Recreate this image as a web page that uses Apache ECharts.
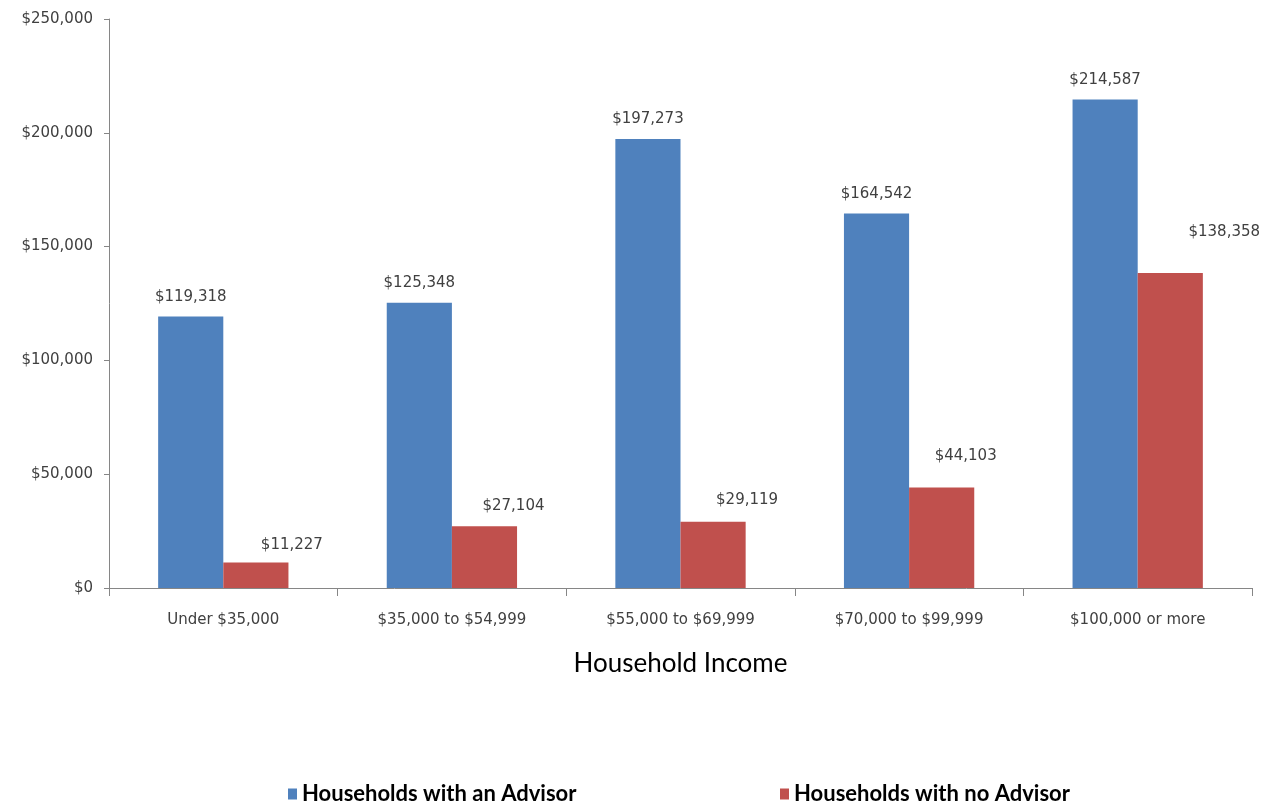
<!DOCTYPE html>
<html>
<head>
<meta charset="utf-8">
<script src="https://cdn.jsdelivr.net/npm/echarts@6/dist/echarts.min.js"></script>
<style>
  html, body { margin: 0; padding: 0; background: #ffffff; }
  #chart { width: 1265px; height: 806px; }
</style>
</head>
<body>
<div id="chart"></div>
<script>
// Household income brackets and average investable assets
const categories = ['Under $35,000', '$35,000 to $54,999', '$55,000 to $69,999', '$70,000 to $99,999', '$100,000 or more'];
const withAdvisor = [119318, 125348, 197273, 164542, 214587];
const noAdvisor = [11227, 27104, 29119, 44103, 138358];
const seriesNames = ['Households with an Advisor', 'Households with no Advisor'];
const yTicks = { min: 0, max: 250000, interval: 50000 };

// Label nudges for the red bars (x, y in px)
const noAdvisorLabelOffsets = [[36, -6], [29, -9], [34, -10], [24, -20], [54, -29]];

const money = v => '$' + Number(v).toLocaleString('en-US');
const axisGray = '#868686';
const textGray = '#404040';
const valueFont = { fontFamily: 'DejaVu Sans', fontSize: 15, color: textGray };
const legendText = { fontFamily: 'Lato', fontWeight: 'bold', fontSize: 22, color: '#000' };

const chart = echarts.init(document.getElementById('chart'), null, { renderer: 'canvas' });

chart.setOption({
  animation: false,
  backgroundColor: '#ffffff',
  grid: { left: 109, right: 13, top: 19, bottom: 218, containLabel: false },
  legend: [
    {
      data: [seriesNames[0]],
      left: 283, top: 778,
      itemWidth: 9, itemHeight: 11, itemGap: 6,
      icon: 'rect',
      textStyle: legendText
    },
    {
      data: [seriesNames[1]],
      left: 775, top: 778,
      itemWidth: 9, itemHeight: 11, itemGap: 6,
      icon: 'rect',
      textStyle: legendText
    }
  ],
  xAxis: {
    type: 'category',
    data: categories,
    name: 'Household Income',
    nameLocation: 'middle',
    nameGap: 63,
    nameTextStyle: { fontFamily: 'Lato', fontSize: 26, color: '#000' },
    axisLine: { lineStyle: { color: axisGray, width: 1 } },
    axisTick: { show: true, length: 8, alignWithLabel: false, lineStyle: { color: axisGray } },
    axisLabel: { margin: 25, fontFamily: 'DejaVu Sans', fontSize: 15, color: textGray }
  },
  yAxis: {
    type: 'value',
    min: yTicks.min, max: yTicks.max, interval: yTicks.interval,
    axisLine: { show: true, lineStyle: { color: axisGray, width: 1 } },
    axisTick: { show: true, inside: false, length: 5, lineStyle: { color: axisGray } },
    splitLine: { show: false },
    axisLabel: { margin: 16, fontFamily: 'DejaVu Sans', fontSize: 15, color: textGray, formatter: money }
  },
  series: [
    {
      name: seriesNames[0],
      type: 'bar',
      data: withAdvisor,
      barGap: '0%',
      barCategoryGap: '43%',
      itemStyle: { color: '#4F81BD' },
      label: { show: true, position: 'top', distance: 12, formatter: p => money(p.value), ...valueFont }
    },
    {
      name: seriesNames[1],
      type: 'bar',
      data: noAdvisor.map((v, i) => ({
        value: v,
        label: { offset: noAdvisorLabelOffsets[i] }
      })),
      barGap: '0%',
      barCategoryGap: '43%',
      itemStyle: { color: '#C0504D' },
      label: { show: true, position: 'top', distance: 4, formatter: p => money(p.value), ...valueFont }
    }
  ]
});
</script>
</body>
</html>
